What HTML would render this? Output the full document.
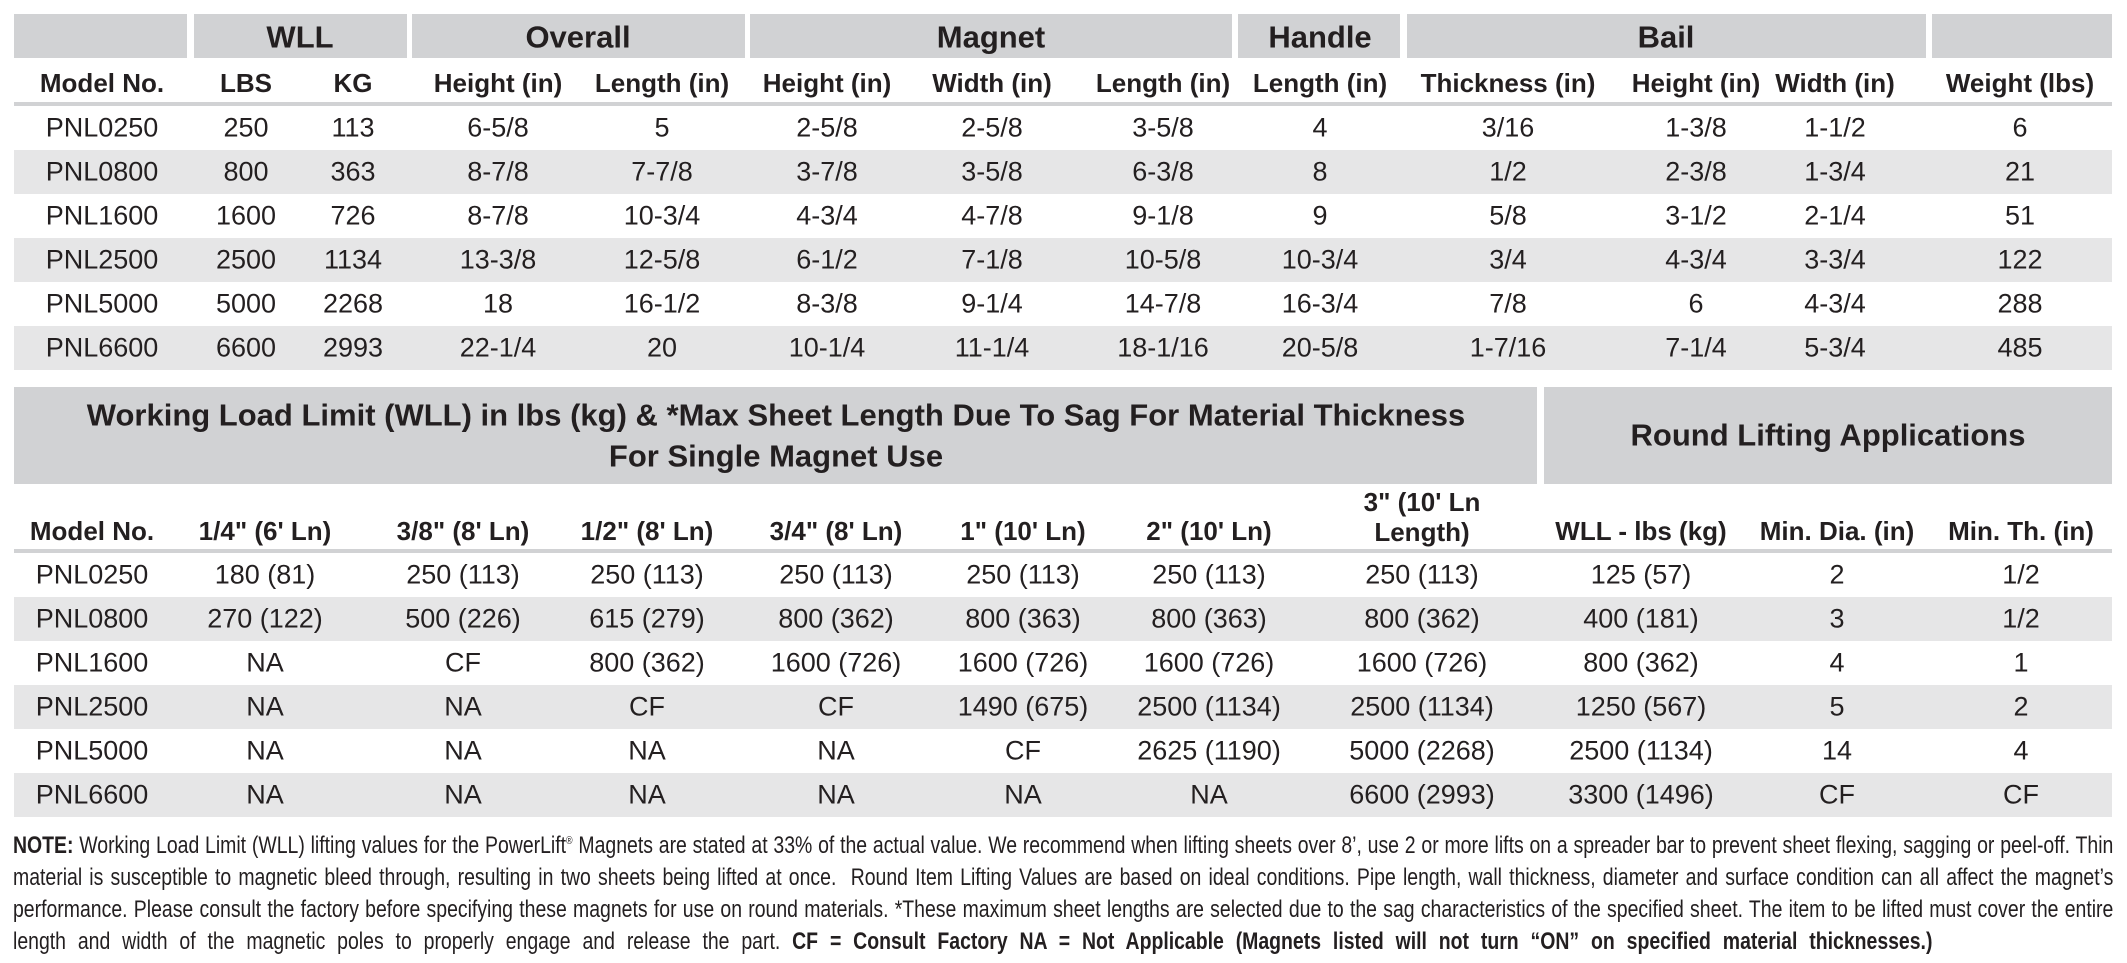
<!DOCTYPE html>
<html><head><meta charset="utf-8"><style>
body{margin:0;width:2127px;height:963px;background:#fff;position:relative;overflow:hidden;font-family:"Liberation Sans",sans-serif;color:#231f20}
.b{position:absolute;background:#d1d2d4}
.r{position:absolute;left:14px;width:2098px;height:44px}
.g{background:#e6e6e7}
.t{position:absolute;white-space:nowrap;transform:translate(-50%,-50%);font-size:27px;line-height:1}
.h{font-weight:bold;font-size:26px}
.H{font-weight:bold;font-size:31px}
.ln{position:absolute;left:14px;width:2098px;height:4px;background:#d1d2d4}
.n{position:absolute;left:13px;width:2593px;font-size:24px;line-height:1;text-align:justify;text-align-last:justify;white-space:nowrap;transform-origin:0 50%;transform:translateY(-50%) scaleX(0.81)}
</style></head><body>
<div class="b" style="left:14px;top:14px;width:173px;height:44px"></div>
<div class="b" style="left:194px;top:14px;width:213px;height:44px"></div>
<div class="b" style="left:412px;top:14px;width:333px;height:44px"></div>
<div class="b" style="left:750px;top:14px;width:482px;height:44px"></div>
<div class="b" style="left:1238px;top:14px;width:162px;height:44px"></div>
<div class="b" style="left:1407px;top:14px;width:519px;height:44px"></div>
<div class="b" style="left:1932px;top:14px;width:180px;height:44px"></div>
<div class="t H" style="left:300px;top:37px">WLL</div>
<div class="t H" style="left:578px;top:37px">Overall</div>
<div class="t H" style="left:991px;top:37px">Magnet</div>
<div class="t H" style="left:1320px;top:37px">Handle</div>
<div class="t H" style="left:1666px;top:37px">Bail</div>
<div class="ln" style="top:102px"></div>
<div class="r g" style="top:150px"></div>
<div class="r g" style="top:238px"></div><div class="r g" style="top:326px"></div>
<div class="b" style="left:14px;top:387px;width:1523px;height:97px"></div>
<div class="b" style="left:1544px;top:387px;width:568px;height:97px"></div>
<div class="t H" style="left:776px;top:415px">Working Load Limit (WLL) in lbs (kg) &amp; *Max Sheet Length Due To Sag For Material Thickness</div>
<div class="t H" style="left:776px;top:456px">For Single Magnet Use</div>
<div class="t H" style="left:1828px;top:435px">Round Lifting Applications</div>
<div class="ln" style="top:549px"></div>
<div class="r g" style="top:597px"></div><div class="r g" style="top:685px"></div><div class="r g" style="top:773px"></div>
<div id="c"></div>
<script>
var c=document.getElementById('c'),h='';
function put(x,y,s,cl){h+='<div class="t '+(cl||'')+'" style="left:'+x+'px;top:'+y+'px">'+s+'</div>';}
var X1=[102,246,353,498,662,827,992,1163,1320,1508,1696,1835,2020];
var H1=['Model No.','LBS','KG','Height (in)','Length (in)','Height (in)','Width (in)','Length (in)','Length (in)','Thickness (in)','Height (in)','Width (in)','Weight (lbs)'];
var D1=[['PNL0250','250','113','6-5/8','5','2-5/8','2-5/8','3-5/8','4','3/16','1-3/8','1-1/2','6'],
['PNL0800','800','363','8-7/8','7-7/8','3-7/8','3-5/8','6-3/8','8','1/2','2-3/8','1-3/4','21'],
['PNL1600','1600','726','8-7/8','10-3/4','4-3/4','4-7/8','9-1/8','9','5/8','3-1/2','2-1/4','51'],
['PNL2500','2500','1134','13-3/8','12-5/8','6-1/2','7-1/8','10-5/8','10-3/4','3/4','4-3/4','3-3/4','122'],
['PNL5000','5000','2268','18','16-1/2','8-3/8','9-1/4','14-7/8','16-3/4','7/8','6','4-3/4','288'],
['PNL6600','6600','2993','22-1/4','20','10-1/4','11-1/4','18-1/16','20-5/8','1-7/16','7-1/4','5-3/4','485']];
H1.forEach(function(s,i){put(X1[i],83,s,'h');});
D1.forEach(function(r,j){r.forEach(function(s,i){put(X1[i],128+44*j,s);});});
var X2=[92,265,463,647,836,1023,1209,1422,1641,1837,2021];
var H2=['Model No.','1/4" (6\' Ln)','3/8" (8\' Ln)','1/2" (8\' Ln)','3/4" (8\' Ln)','1" (10\' Ln)','2" (10\' Ln)','','WLL - lbs (kg)','Min. Dia. (in)','Min. Th. (in)'];
var D2=[['PNL0250','180 (81)','250 (113)','250 (113)','250 (113)','250 (113)','250 (113)','250 (113)','125 (57)','2','1/2'],
['PNL0800','270 (122)','500 (226)','615 (279)','800 (362)','800 (363)','800 (363)','800 (362)','400 (181)','3','1/2'],
['PNL1600','NA','CF','800 (362)','1600 (726)','1600 (726)','1600 (726)','1600 (726)','800 (362)','4','1'],
['PNL2500','NA','NA','CF','CF','1490 (675)','2500 (1134)','2500 (1134)','1250 (567)','5','2'],
['PNL5000','NA','NA','NA','NA','CF','2625 (1190)','5000 (2268)','2500 (1134)','14','4'],
['PNL6600','NA','NA','NA','NA','NA','NA','6600 (2993)','3300 (1496)','CF','CF']];
H2.forEach(function(s,i){if(s)put(X2[i],531,s,'h');});
put(1422,502,'3" (10\' Ln','h');put(1422,532,'Length)','h');
D2.forEach(function(r,j){r.forEach(function(s,i){put(X2[i],575+44*j,s);});});
c.innerHTML=h;
</script>
<div class="n" style="top:846px"><b>NOTE:</b> Working Load Limit (WLL) lifting values for the PowerLift<sup style="font-size:11px">®</sup> Magnets are stated at 33% of the actual value. We recommend when lifting sheets over 8’, use 2 or more lifts on a spreader bar to prevent sheet flexing, sagging or peel-off. Thin</div>
<div class="n" style="top:878px">material is susceptible to magnetic bleed through, resulting in two sheets being lifted at once.&nbsp; Round Item Lifting Values are based on ideal conditions. Pipe length, wall thickness, diameter and surface condition can all affect the magnet’s</div>
<div class="n" style="top:910px">performance. Please consult the factory before specifying these magnets for use on round materials. *These maximum sheet lengths are selected due to the sag characteristics of the specified sheet. The item to be lifted must cover the entire</div>
<div class="n" style="top:942px;text-align-last:left;word-spacing:8px">length and width of the magnetic poles to properly engage and release the part. <b>CF = Consult Factory NA = Not Applicable (Magnets listed will not turn “ON” on specified material thicknesses.)</b></div>
</body></html>
